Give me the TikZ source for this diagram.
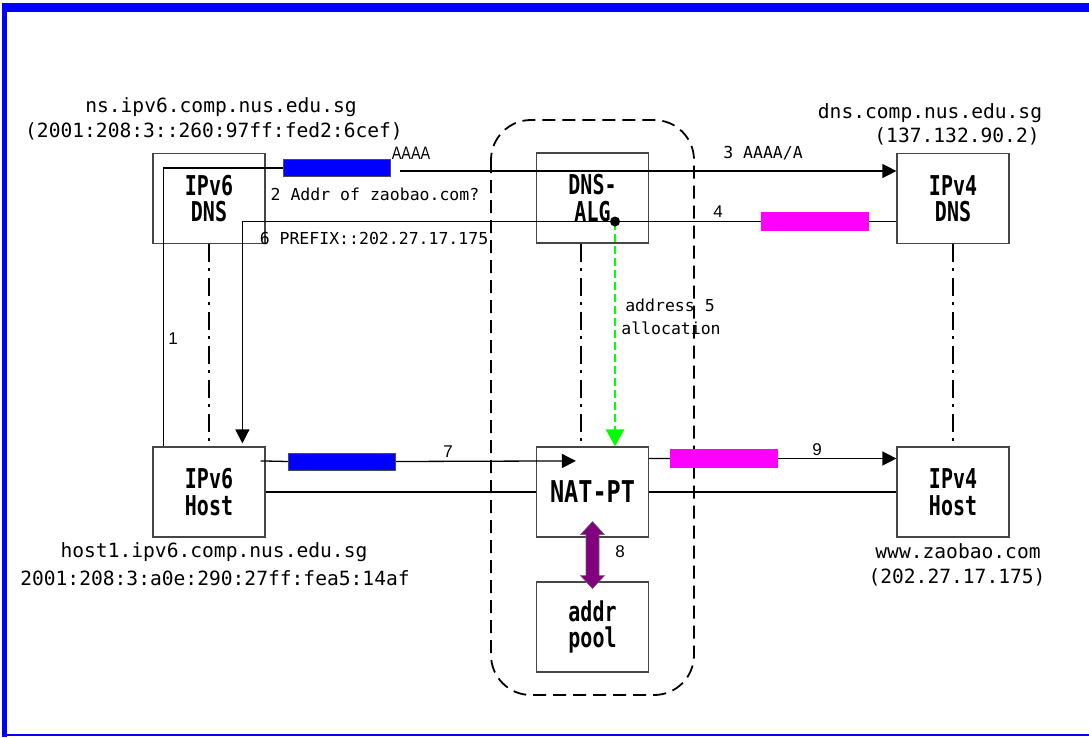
\documentclass[tikz,border=0pt]{standalone}
\usepackage{fontspec}
\setmonofont{DejaVu Sans Mono}
\newfontfamily\numfont{Liberation Sans}
\usetikzlibrary{calc,arrows.meta}
\definecolor{frameblue}{RGB}{0,0,255}
\definecolor{barblue}{RGB}{0,0,255}
\definecolor{barmag}{RGB}{255,0,255}
\definecolor{allocgreen}{RGB}{0,255,0}
\definecolor{poolpurple}{RGB}{128,0,128}
\definecolor{boxgray}{RGB}{70,70,70}
\newcommand{\talltxt}[1]{\scalebox{0.95}[1.3]{#1}}
\tikzset{
  box/.style={draw=boxgray,line width=1.2pt,minimum width=112pt,minimum height=90pt,inner sep=0pt,align=center,
    font=\ttfamily\bfseries\fontsize{21}{26.5}\selectfont},
  bigtxt/.style={inner sep=0pt,font=\ttfamily\fontsize{19.6}{24}\selectfont},
  smalltxt/.style={inner sep=0pt,font=\ttfamily\fontsize{16.5}{20}\selectfont},
  numtxt/.style={inner sep=0pt,font=\numfont\fontsize{17}{20}\selectfont},
  bluebar/.style={draw=black!70,line width=0.8pt,fill=barblue,minimum width=107pt,minimum height=17pt,inner sep=0pt},
  magbar/.style={fill=barmag,minimum width=108pt,minimum height=19pt,inner sep=0pt},
  conn/.style={line width=1.3pt,black},
  arr/.style={conn,-{Triangle[length=14pt,width=14pt]}},
  dashdot/.style={line width=2pt,dash pattern=on 18pt off 6pt on 3pt off 7pt},
  greenarr/.style={allocgreen,line width=2.6pt,dash pattern=on 8pt off 4pt,-{Triangle[length=17pt,width=18pt]}},
  groupbox/.style={line width=1.8pt,dash pattern=on 13pt off 7pt,rounded corners=40pt},
}
\begin{document}
\begin{tikzpicture}[x=1pt,y=-1pt]
\useasboundingbox (0,0) rectangle (1089,737);
% frame
\fill[frameblue] (2,3) rectangle (1089,12);
\fill[frameblue] (2,3) rectangle (7,737);
\fill[frameblue] (2,734) rectangle (1089,736);

% group
\draw[groupbox] (491,120) rectangle (694,695);

% boxes
\node[box] (v6dns) at (209,198.5) {\talltxt{IPv6}\\\talltxt{DNS}};
\node[box] (alg) at (592.5,198) {\talltxt{DNS-}\\\talltxt{ALG}};
\node[box] (v4dns) at (953,198.5) {\talltxt{IPv4}\\\talltxt{DNS}};
\node[box] (v6host) at (209,492) {\talltxt{IPv6}\\\talltxt{Host}};
\node[box,font=\ttfamily\bfseries\fontsize{24}{28}\selectfont] (nat) at (592.5,492) {\scalebox{0.98}[1.25]{NAT-PT}};
\node[box] (v4host) at (953,492) {\talltxt{IPv4}\\\talltxt{Host}};
\node[box] (pool) at (592.5,627) {\talltxt{addr}\\\talltxt{pool}};

% host labels
\node[bigtxt] (l1) at (221,107) {ns.ipv6.comp.nus.edu.sg};
\node[bigtxt] (l2) at (214,131) {(2001:208:3::260:97ff:fed2:6cef)};
\node[bigtxt] (l3) at (930,113) {dns.comp.nus.edu.sg};
\node[bigtxt] (l4) at (957,136) {(137.132.90.2)};
\node[bigtxt] (l5) at (214,552) {host1.ipv6.comp.nus.edu.sg};
\node[bigtxt] (l6) at (215,578) {2001:208:3:a0e:290:27ff:fea5:14af};
\node[bigtxt] (l7) at (958,551) {www.zaobao.com};
\node[bigtxt] (l8) at (957,577) {(202.27.17.175)};

% dash-dot lines
\draw[dashdot] (v6dns.south) -- (v6host.north);
\draw[dashdot] ($(alg.south)+(-12,0)$) -- ($(nat.north)+(-12,0)$);
\draw[dashdot] (v4dns.south) -- (v4host.north);

% step 1-3
\node[bluebar] (b1) at (336.5,168) {};
\draw[conn] ($(v6host.north west)+(11,0)$) |- (b1.west);
\node[inner sep=0pt,font=\numfont\fontsize{18}{20}\selectfont,xscale=0.8] (aaaa) at (411,153) {AAAA};
\coordinate (p3) at (400,171);
\draw[arr] (p3) -- (p3 -| v4dns.west);
\node[smalltxt] (t3) at (763,153) {3 AAAA/A};
\node[smalltxt] (t2) at (375,194) {2 Addr of zaobao.com?};
\node[numtxt] (t1) at (173,339) {1};

% step 4-6
\node[magbar] (m1) at (815,221.5) {};
\coordinate (dot) at (615,221.5);
\draw[conn] (m1.east -| v4dns.west) -- (m1.east);
\draw[conn] (m1.west) -- (dot);
\draw[arr] (dot) -| ($(v6host.north west)+(90,-3)$);
\node[numtxt] (t4) at (718,212) {4};
\node[smalltxt] (t6) at (374,238) {6 PREFIX::202.27.17.175};

% step 5
\draw[greenarr] (dot) -- (dot |- nat.north);
\fill (dot) circle (5pt);
\node[smalltxt] (t5a) at (670,305) {address 5};
\node[smalltxt] (t5b) at (671,328) {allocation};

% step 7
\node[bluebar] (b2) at (342,461.5) {};
\draw[conn] ($(v6host.north east)+(-5,14.5)$) -- (b2.west);
\draw[arr] (b2.east) -- ($(nat.north west)+(40,14.5)$);
\node[numtxt] (t7) at (448,452) {7};

% step 9
\node[magbar] (m2) at (724,458.5) {};
\draw[conn] ($(nat.north east)+(0,12)$) -- (m2.west);
\draw[arr] (m2.east) -- (m2.east -| v4host.west);
\node[numtxt] (t9) at (817,450) {9};

% through lines
\draw[line width=1.8pt] (v6host.east) -- (nat.west);
\draw[line width=1.8pt] (nat.east) -- (v4host.west);

% step 8 double arrow
\coordinate (pa) at (nat.south);
\draw[fill=poolpurple,draw=black!60,line width=0.6pt]
  ($(pa)+(0,-16)$) -- ($(pa)+(12,-3)$) -- ($(pa)+(6.5,-3)$) -- ($(pa)+(6.5,38)$) -- ($(pa)+(12,38)$)
  -- ($(pa)+(0,51)$) -- ($(pa)+(-12,38)$) -- ($(pa)+(-6.5,38)$) -- ($(pa)+(-6.5,-3)$) -- ($(pa)+(-12,-3)$) -- cycle;
\node[numtxt] (t8) at (620,552) {8};
\end{tikzpicture}
\end{document}
